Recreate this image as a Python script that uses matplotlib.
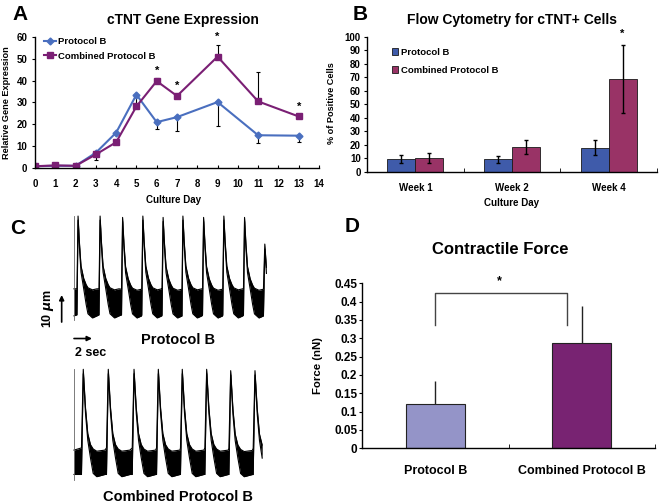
import matplotlib
matplotlib.use('Agg')
import matplotlib.pyplot as plt

plt.rcParams['font.family'] = ['Liberation Sans', 'DejaVu Sans']
plt.rcParams['font.weight'] = 'bold'
plt.rcParams['axes.labelweight'] = 'bold'
plt.rcParams['axes.linewidth'] = 1.0

# ---- data ----
# A: cTNT gene expression
days = [0, 1, 2, 3, 4, 5, 6, 7, 9, 11, 13]
expr_b = [0.8, 1.0, 1.0, 7.0, 16.2, 33.6, 21.0, 23.3, 30.2, 15.0, 14.8]
expr_b_err = [0, 0, 0, 3.3, 0, 5.5, 3.0, 6.5, 11.0, 3.5, 3.0]
expr_cb = [0.8, 1.2, 1.0, 6.2, 11.8, 28.2, 39.8, 33.0, 51.0, 30.5, 23.6]
expr_cb_err = [0, 0, 0, 0, 0, 0, 1.5, 0, 5.5, 13.5, 0]
star_days = [6, 7, 9, 13]
star_vals = [44.5, 37.5, 60.3, 28.0]

# B: flow cytometry
weeks = ['Week 1', 'Week 2', 'Week 4']
flow_b = [9.2, 9.0, 17.6]
flow_b_err = [2.9, 2.6, 5.6]
flow_cb = [9.8, 18.2, 68.6]
flow_cb_err = [3.7, 5.0, 25.3]

# C: beating traces (time in s, displacement in um)
pb_peak_t = [0.45, 2.9, 5.4, 7.65, 9.9, 12.1, 14.4, 16.65, 18.95, 21.05]
pb_peak_h = [38.5, 38.5, 38.0, 38.5, 38.0, 38.5, 38.0, 38.5, 38.0, 37.5]
pb_end = 21.4
pb_shape_t = [-0.12, 0.0, 0.15, 0.33, 0.63, 0.9, 1.1, 1.6, 2.1]
pb_shape_hi = [0.30, 1.0, 0.75, 0.52, 0.40, 0.34, 0.31, 0.29, 0.30]
pb_shape_lo = [0.05, 0.96, 0.70, 0.46, 0.30, 0.15, 0.06, 0.02, 0.04]

cb_peak_t = [1.03, 3.81, 6.67, 9.37, 12.03, 14.74, 17.41, 20.11]
cb_peak_h = [41.0, 41.0, 41.0, 41.0, 41.0, 41.0, 40.5, 40.5]
cb_end = 21.0
cb_shape_t = [-0.2, 0.0, 0.25, 0.5, 0.8, 1.1, 1.5, 2.4]
cb_shape_hi = [0.29, 1.0, 0.65, 0.42, 0.32, 0.28, 0.26, 0.27]
cb_shape_lo = [0.05, 0.96, 0.60, 0.36, 0.20, 0.06, 0.03, 0.05]

# D: contractile force
groups = ['Protocol B', 'Combined Protocol B']
force = [0.12, 0.286]
force_err = [0.064, 0.103]

W, H = 661, 504


def fx(px):
    return px / W


def fy(py):
    return 1 - py / H


fig = plt.figure(figsize=(6.61, 5.04), dpi=100)

# ---- A ----
axA = fig.add_axes([fx(35), fy(168), 284 / W, 131 / H])
axA.errorbar(days, expr_b, yerr=[expr_b_err, [0] * len(days)], fmt='none',
             ecolor='black', elinewidth=0.8, capsize=1.5, capthick=0.8)
axA.errorbar(days, expr_cb, yerr=[[0] * len(days), expr_cb_err], fmt='none',
             ecolor='black', elinewidth=0.8, capsize=1.5, capthick=0.8)
axA.plot(days, expr_b, color='#4A6FBF', marker='D', ms=3.5, lw=1.5,
         label='Protocol B')
axA.plot(days, expr_cb, color='#7A1F74', marker='s', ms=3.8, lw=1.5,
         label='Combined Protocol B')
for d, v in zip(star_days, star_vals):
    axA.text(d, v, '*', ha='center', va='center', fontsize=8)
axA.set_xlim(0, 14)
axA.set_ylim(0, 60)
axA.set_xticks(range(15))
axA.set_yticks(range(0, 61, 10))
axA.tick_params(axis='x', direction='in', length=2.5, labelsize=7, pad=8)
axA.tick_params(axis='y', direction='out', length=2.5, labelsize=7, pad=3)
for s in ['top', 'right']:
    axA.spines[s].set_visible(False)
axA.legend(loc='upper left', bbox_to_anchor=(0.03, 1.0), frameon=False,
           fontsize=6.8, handlelength=1.3, handletextpad=0.25,
           labelspacing=0.6, borderpad=0, borderaxespad=0)

fig.text(fx(183), fy(20), 'cTNT Gene Expression', ha='center', va='center',
         fontsize=10)
fig.text(fx(7), fy(103), 'Relative Gene Expression', ha='center',
         va='center', rotation=90, fontsize=6.6)
fig.text(fx(173), fy(200), 'Culture Day', ha='center', va='center',
         fontsize=7)

# ---- B ----
axB = fig.add_axes([fx(367), fy(171.5), 290 / W, 134.5 / H])
xb = range(len(weeks))
axB.bar([i - 0.145 for i in xb], flow_b, width=0.29, color='#3F5BAA',
        edgecolor='#1a1a1a', linewidth=0.6, label='Protocol B')
axB.bar([i + 0.145 for i in xb], flow_cb, width=0.29, color='#993366',
        edgecolor='#1a1a1a', linewidth=0.6, label='Combined Protocol B')
axB.errorbar([i - 0.145 for i in xb], flow_b, yerr=flow_b_err, fmt='none',
             ecolor='black', elinewidth=1.0, capsize=1.5, capthick=1.0)
axB.errorbar([i + 0.145 for i in xb], flow_cb, yerr=flow_cb_err, fmt='none',
             ecolor='black', elinewidth=1.0, capsize=1.5, capthick=1.0)
axB.text(2.145, 102, '*', ha='center', va='center', fontsize=8)
axB.set_xlim(-0.5, 2.5)
axB.set_ylim(0, 100)
axB.set_yticks(range(0, 101, 10))
axB.set_xticks(list(xb))
axB.set_xticklabels(weeks)
axB.set_xticks([0.5, 1.5, 2.5], minor=True)
axB.tick_params(axis='x', which='major', length=0, labelsize=7, pad=8)
axB.tick_params(axis='x', which='minor', direction='in', length=3)
axB.tick_params(axis='y', direction='out', length=2.5, labelsize=7, pad=2)
for s in ['top', 'right']:
    axB.spines[s].set_visible(False)
axB.legend(loc='upper left', bbox_to_anchor=(0.086, 0.92), frameon=False,
           fontsize=6.8, handlelength=0.65, handleheight=0.65,
           handletextpad=0.3, labelspacing=0.95, borderpad=0,
           borderaxespad=0)

fig.text(fx(512), fy(20), 'Flow Cytometry for cTNT+ Cells', ha='center',
         va='center', fontsize=10)
fig.text(fx(332), fy(103), '% of Positive Cells', ha='center', va='center',
         rotation=90, fontsize=6.6)
fig.text(fx(512), fy(203), 'Culture Day', ha='center', va='center',
         fontsize=7)

# ---- C ----
axC = fig.add_axes([0, 0, 330 / W, 299 / H])
axC.set_xlim(-74 / 9, (330 - 74) / 9)
axC.set_ylim((480 - 504) / 2.7, (480 - 205) / 2.7)
axC.axis('off')


def build_trace(peak_t, peak_h, shape_t, shape_hi, shape_lo, t_end):
    ts = [0.0]
    hi = [shape_hi[-1] * peak_h[0]]
    lo = [shape_lo[-1] * peak_h[0]]
    for t0, h in zip(peak_t, peak_h):
        for s, a, b in zip(shape_t, shape_hi, shape_lo):
            t = t0 + s
            if ts[-1] < t <= t_end:
                ts.append(t)
                hi.append(a * h)
                lo.append(b * h)
    return ts, hi, lo


top_off = 160 / 2.7
for pk_t, pk_h, st, sh, sl, te, off in [
        (pb_peak_t, pb_peak_h, pb_shape_t, pb_shape_hi, pb_shape_lo, pb_end,
         top_off),
        (cb_peak_t, cb_peak_h, cb_shape_t, cb_shape_hi, cb_shape_lo, cb_end,
         0.0)]:
    ts, hi, lo = build_trace(pk_t, pk_h, st, sh, sl, te)
    hi = [v + off for v in hi]
    lo = [v + off for v in lo]
    axC.fill_between(ts, lo, hi, color='black', lw=0)
    axC.plot(ts, hi, color='black', lw=0.8)
    axC.plot(ts, lo, color='black', lw=0.8)
    axC.plot([0, 0], [off, off + max(pk_h)], color='#666666', lw=0.6)

# scale bars
axC.annotate('', xy=(-1.37, 68.5), xytext=(-1.37, 58.5),
             arrowprops=dict(arrowstyle='-|>', color='black', lw=1.2,
                             mutation_scale=7, shrinkA=0, shrinkB=0))
axC.annotate('', xy=(2.0, 52.4), xytext=(0.0, 52.4),
             arrowprops=dict(arrowstyle='-|>', color='black', lw=1.2,
                             mutation_scale=7, shrinkA=0, shrinkB=0))
axC.text(-2.9, 63.5, r'10 $\mu$m', rotation=90, ha='center', va='center',
         fontsize=9)
axC.text(0.1, 47.0, '2 sec', ha='left', va='center', fontsize=9)
axC.text(11.6, 51.9, 'Protocol B', ha='center', va='center', fontsize=10.5)
axC.text(11.6, -6.3, 'Combined Protocol B', ha='center', va='center',
         fontsize=10.5)

# ---- D ----
axD = fig.add_axes([fx(362), fy(448.3), 293 / W, 165 / H])
axD.bar([0, 1], force, width=0.4, color=['#9494C8', '#782372'],
        edgecolor='#222222', linewidth=0.8)
axD.errorbar([0, 1], force, yerr=[[0, 0], force_err], fmt='none',
             ecolor='#222222', elinewidth=1.0, capsize=0)
axD.plot([0, 0, 0.9, 0.9], [0.336, 0.423, 0.423, 0.336], color='#444444',
         lw=1.0)
axD.text(0.44, 0.455, '*', ha='center', va='center', fontsize=9,
         clip_on=False)
axD.set_xlim(-0.5, 1.5)
axD.set_ylim(0, 0.45)
axD.set_yticks([i * 0.05 for i in range(10)])
axD.set_yticklabels(['0', '0.05', '0.1', '0.15', '0.2', '0.25', '0.3',
                     '0.35', '0.4', '0.45'])
axD.set_xticks([0, 1])
axD.set_xticklabels(groups)
axD.set_xticks([0.5, 1.5], minor=True)
axD.tick_params(axis='x', which='major', length=0, labelsize=9, pad=12)
axD.tick_params(axis='x', which='minor', direction='in', length=3)
axD.tick_params(axis='y', direction='out', length=2.5, labelsize=8.5, pad=1)
for s in ['top', 'right']:
    axD.spines[s].set_visible(False)

fig.text(fx(500), fy(250), 'Contractile Force', ha='center', va='center',
         fontsize=12)
fig.text(fx(318), fy(366), 'Force (nN)', ha='center', va='center',
         rotation=90, fontsize=8.2)

# panel letters
for lbl, x, y in [('A', 20, 15), ('B', 360, 15), ('C', 18, 228),
                  ('D', 352, 227)]:
    fig.text(fx(x), fy(y), lbl, ha='center', va='center', fontsize=15)

fig.savefig('out.png', dpi=100)
